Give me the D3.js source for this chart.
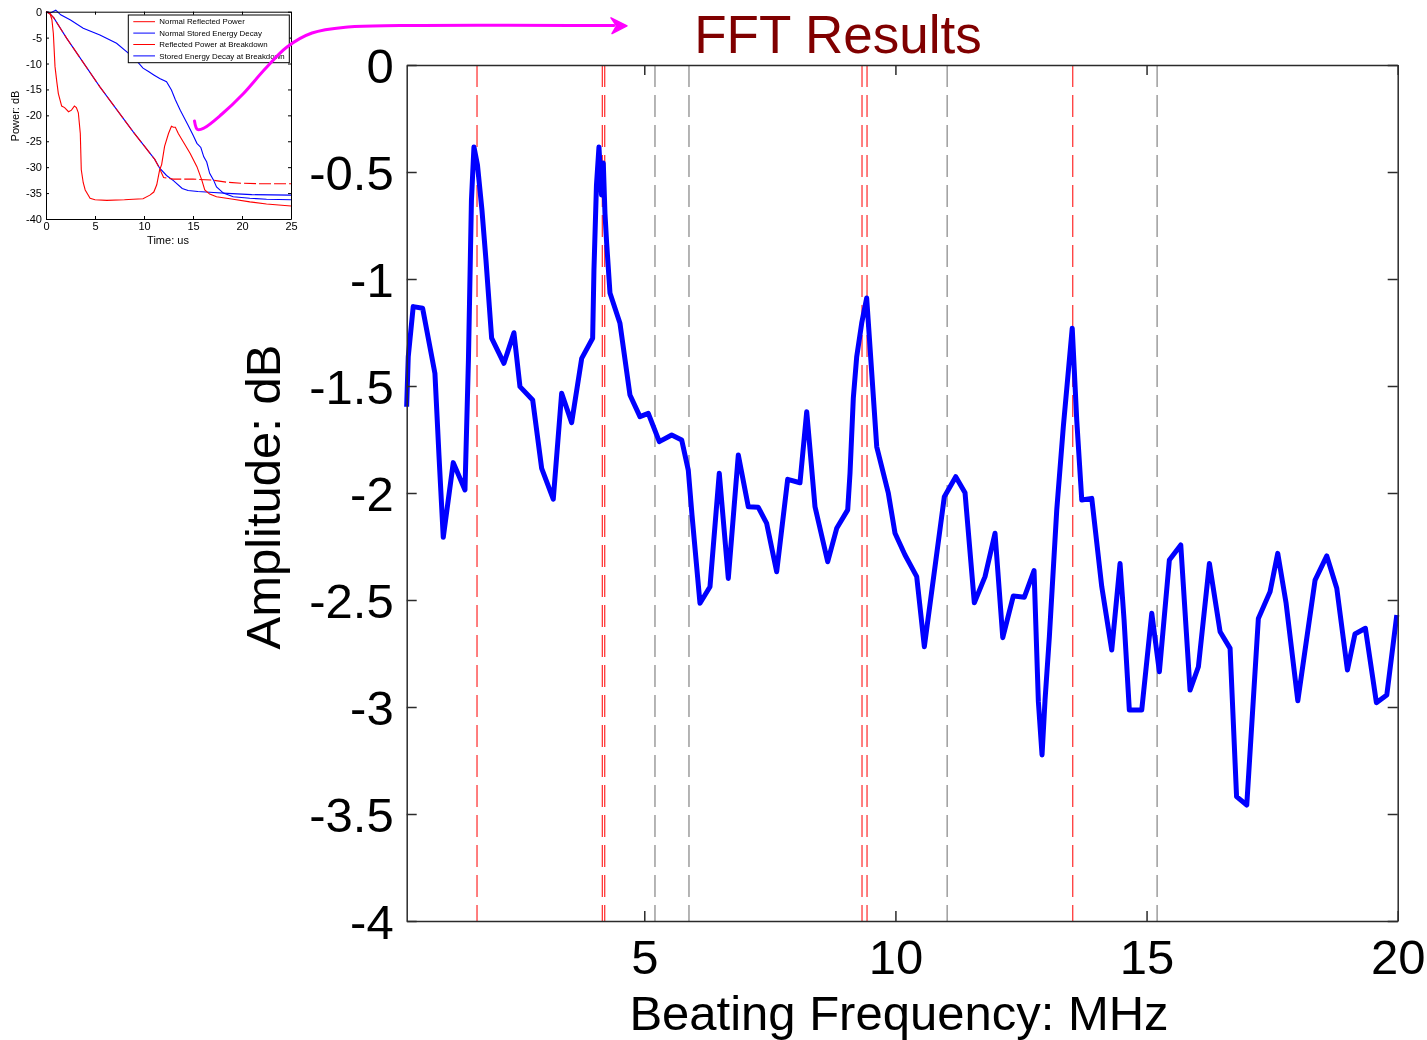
<!DOCTYPE html>
<html>
<head>
<meta charset="utf-8">
<title>FFT Results</title>
<script src="https://cdn.jsdelivr.net/npm/d3@7"></script>
<style>
  html, body { margin: 0; padding: 0; background: #fff; }
  svg { display: block; }
</style>
</head>
<body>
<svg id="chart" width="1427" height="1040"></svg>
<script>
// ---------- FFT spectrum (beating frequency vs amplitude) ----------
const freqMHz = [
  0.269, 0.301, 0.400, 0.587, 0.832, 0.912, 0.998, 1.197, 1.430, 1.499,
  1.559, 1.609, 1.679, 1.768, 1.848, 1.961, 2.206, 2.405, 2.525, 2.778,
  2.957, 3.188, 3.355, 3.554, 3.754, 3.972, 3.998, 4.048, 4.098, 4.148,
  4.184, 4.217, 4.251, 4.317, 4.516, 4.715, 4.914, 5.080, 5.299, 5.546,
  5.745, 5.876, 5.950, 6.109, 6.308, 6.493, 6.673, 6.872, 7.071, 7.270,
  7.437, 7.636, 7.855, 8.100, 8.234, 8.399, 8.652, 8.831, 9.050, 9.096,
  9.162, 9.229, 9.329, 9.428, 9.628, 9.859, 9.992, 10.191, 10.424, 10.576,
  10.974, 11.201, 11.386, 11.571, 11.784, 11.983, 12.137, 12.348, 12.567, 12.760,
  12.846, 12.919, 12.979, 13.065, 13.212, 13.343, 13.520, 13.610, 13.710, 13.909,
  14.108, 14.307, 14.472, 14.552, 14.657, 14.904, 15.104, 15.255, 15.454, 15.681,
  15.866, 16.032, 16.251, 16.464, 16.663, 16.792, 16.995, 17.226, 17.459, 17.612,
  17.778, 18.011, 18.355, 18.588, 18.787, 18.999, 19.149, 19.357, 19.576, 19.783,
  19.982
];
const ampDB = [
  -1.597, -1.363, -1.129, -1.137, -1.441, -1.822, -2.207, -1.858, -1.986, -1.379,
  -0.631, -0.383, -0.467, -0.678, -0.911, -1.276, -1.394, -1.251, -1.503, -1.565,
  -1.885, -2.029, -1.534, -1.671, -1.371, -1.277, -0.958, -0.561, -0.383, -0.607,
  -0.458, -0.692, -0.832, -1.065, -1.207, -1.542, -1.643, -1.628, -1.760, -1.729,
  -1.752, -1.893, -2.103, -2.515, -2.438, -1.908, -2.399, -1.822, -2.064, -2.067,
  -2.142, -2.368, -1.936, -1.952, -1.620, -2.064, -2.321, -2.165, -2.079, -1.907,
  -1.556, -1.364, -1.206, -1.089, -1.784, -2.001, -2.188, -2.290, -2.391, -2.718,
  -2.017, -1.924, -1.999, -2.513, -2.391, -2.188, -2.676, -2.481, -2.487, -2.363,
  -2.975, -3.224, -2.967, -2.671, -2.079, -1.690, -1.230, -1.659, -2.033, -2.025,
  -2.438, -2.734, -2.329, -2.593, -3.014, -3.014, -2.562, -2.835, -2.313, -2.243,
  -2.921, -2.812, -2.329, -2.648, -2.726, -3.419, -3.458, -2.586, -2.461, -2.282,
  -2.515, -2.971, -2.407, -2.294, -2.445, -2.827, -2.659, -2.632, -2.980, -2.944,
  -2.570
];

// expected beating frequencies (red) and reference lines (grey), MHz
const redMarkers  = [1.670, 4.165, 4.212, 9.335, 9.435, 13.53];
const greyMarkers = [5.213, 5.890, 11.03, 15.21];

// axis ticks
const xTicks = [5, 10, 15, 20];
const yTicks = [0, -0.5, -1, -1.5, -2, -2.5, -3, -3.5, -4];

// ---------- inset: time-domain decay traces (us, dB) ----------
const normReflT  = [0, 0.4, 0.8, 2.1, 5.5, 8.9, 11.1, 11.5, 12.0, 13.0, 15.0, 17.0, 18.4, 20.0, 22.0, 25.0];
const normReflDB = [0, -0.4, -1.2, -5.1, -14.5, -23.2, -28.5, -29.9, -32.0, -32.3, -32.3, -32.5, -32.9, -33.1, -33.2, -33.2];

const normStoredT  = [0, 0.4, 0.8, 2.1, 5.5, 8.9, 11.1, 11.6, 12.3, 13.0, 13.9, 14.5, 15.5, 17.1, 19.0, 21.0, 25.0];
const normStoredDB = [0, -0.4, -1.2, -5.1, -14.5, -23.2, -28.5, -30.2, -31.6, -32.6, -34.1, -34.5, -34.7, -34.9, -35.1, -35.3, -35.4];

const bdReflT  = [0, 0.4, 0.6, 0.75, 0.92, 1.1, 1.26, 1.6, 1.9, 2.3, 2.6, 2.9, 3.1, 3.3, 3.5, 3.6, 3.8, 4.0, 4.5, 5.0,
                  6.2, 8.0, 8.9, 9.9, 10.6, 11.0, 11.3, 11.6, 11.8, 12.1, 12.5, 12.8, 13.0, 13.2, 13.5, 14.0, 14.7, 15.4, 15.9, 16.2,
                  16.7, 17.4, 19.1, 20.8, 22.5, 25.0];
const bdReflDB = [0, -0.3, -1.5, -4.2, -10.6, -13.5, -15.8, -18.2, -18.5, -19.3, -19.0, -18.2, -18.5, -19.5, -23.5, -30.5, -33.0, -34.4, -36.0, -36.3,
                  -36.4, -36.3, -36.2, -36.1, -35.4, -34.8, -33.4, -30.5, -29.5, -26.0, -23.5, -22.1, -22.3, -22.3, -23.5, -25.1, -27.3, -29.9, -32.5, -34.4,
                  -35.2, -35.7, -36.2, -36.7, -37.1, -37.5];

const bdStoredT  = [0, 0.5, 1.0, 1.5, 2.5, 3.8, 5.5, 7.2, 8.4, 9.3, 9.9, 10.5, 11.0, 11.6, 12.3, 12.8, 13.2, 13.7, 14.5, 15.0,
                    15.4, 15.8, 16.1, 16.4, 16.7, 17.1, 17.4, 18.1, 19.1, 20.8, 22.5, 25.0];
const bdStoredDB = [0, -0.2, 0.3, -0.6, -1.6, -3.2, -4.5, -6.1, -8.0, -9.6, -10.9, -11.6, -12.2, -12.9, -13.5, -15.1, -17.0, -19.0, -21.9, -23.8,
                    -25.4, -26.2, -28.0, -29.0, -31.2, -32.5, -33.8, -35.0, -35.7, -36.0, -36.2, -36.3];

const insetLegend = ["Normal Reflected Power", "Normal Stored Energy Decay", "Reflected Power at Breakdown", "Stored Energy Decay at Breakdown"];
const insetColors = ["#ff0000", "#0000ff", "#ff0000", "#0000ff"];
const insetXTicks = [0, 5, 10, 15, 20, 25];
const insetYTicks = [0, -5, -10, -15, -20, -25, -30, -35, -40];

const FONT = "'Liberation Sans', Arial, Helvetica, sans-serif";
const svg = d3.select("#chart");

// ================= main FFT axes =================
const plot = { left: 406.7, right: 1397.7, top: 65, bottom: 921 };
const x = d3.scaleLinear().domain([0.27, 20]).range([plot.left, plot.right]);
const y = d3.scaleLinear().domain([-4, 0]).range([plot.bottom, plot.top]);

const main = svg.append("g");

// vertical marker lines
const markerG = main.append("g");
markerG.selectAll("line.grey").data(greyMarkers).join("line")
  .attr("class", "grey")
  .attr("x1", d => x(d)).attr("x2", d => x(d))
  .attr("y1", plot.top).attr("y2", plot.bottom)
  .attr("stroke", "#8e8e8e").attr("stroke-width", 1.3)
  .attr("stroke-dasharray", "22,8");
markerG.selectAll("line.red").data(redMarkers).join("line")
  .attr("class", "red")
  .attr("x1", d => x(d)).attr("x2", d => x(d))
  .attr("y1", plot.top).attr("y2", plot.bottom)
  .attr("stroke", "#ff3a3a").attr("stroke-width", 1.3)
  .attr("stroke-dasharray", "22,8");

// spectrum trace
const spectrum = d3.zip(freqMHz, ampDB);
main.append("path")
  .datum(spectrum)
  .attr("fill", "none")
  .attr("stroke", "#0000ff")
  .attr("stroke-width", 5)
  .attr("stroke-linejoin", "round")
  .attr("d", d3.line().x(d => x(d[0])).y(d => y(d[1])));

// axes with inward ticks on all four sides
function styleAxis(g, size) {
  g.attr("font-family", FONT).attr("font-size", size);
  g.selectAll("path.domain").attr("stroke", "#2b2b2b").attr("stroke-width", 1.5);
  g.selectAll(".tick line").attr("stroke", "#2b2b2b").attr("stroke-width", 1.5);
  g.selectAll(".tick text").attr("fill", "#000");
}
const fmt = d => String(d);

const xAxis = main.append("g")
  .attr("transform", `translate(0,${plot.bottom})`)
  .call(d3.axisBottom(x).tickValues(xTicks).tickFormat(fmt).tickSizeInner(-10).tickSizeOuter(0).tickPadding(18));
styleAxis(xAxis, 49);

const xAxisTop = main.append("g")
  .attr("transform", `translate(0,${plot.top})`)
  .call(d3.axisTop(x).tickValues(xTicks).tickFormat("").tickSizeInner(-10).tickSizeOuter(0));
styleAxis(xAxisTop, 49);

const yAxis = main.append("g")
  .attr("transform", `translate(${plot.left},0)`)
  .call(d3.axisLeft(y).tickValues(yTicks).tickFormat(fmt).tickSizeInner(-10).tickSizeOuter(0).tickPadding(13));
styleAxis(yAxis, 49);
yAxis.selectAll(".tick text").attr("dy", "0.35em");

const yAxisRight = main.append("g")
  .attr("transform", `translate(${plot.right},0)`)
  .call(d3.axisRight(y).tickValues(yTicks).tickFormat("").tickSizeInner(-10).tickSizeOuter(0));
styleAxis(yAxisRight, 49);

// axis titles
main.append("text")
  .attr("x", 899).attr("y", 1030)
  .attr("text-anchor", "middle")
  .attr("font-family", FONT).attr("font-size", 49)
  .text("Beating Frequency: MHz");

main.append("text")
  .attr("transform", "translate(280,497) rotate(-90)")
  .attr("text-anchor", "middle")
  .attr("font-family", FONT).attr("font-size", 49)
  .text("Amplitude: dB");

// chart title
main.append("text")
  .attr("x", 838).attr("y", 53)
  .attr("text-anchor", "middle")
  .attr("font-family", FONT).attr("font-size", 53)
  .attr("fill", "#800000")
  .text("FFT Results");

// ================= inset: decay traces =================
const defs = svg.append("defs");
defs.append("filter").attr("id", "soft")
  .attr("x", "-5%").attr("y", "-5%").attr("width", "110%").attr("height", "110%")
  .append("feGaussianBlur").attr("stdDeviation", 0.55);

const box = { left: 46, right: 291, top: 11.7, bottom: 219 };
const ix = d3.scaleLinear().domain([0, 25]).range([box.left, box.right]);
const iy = d3.scaleLinear().domain([-40, 0]).range([box.bottom, box.top]);

const inset = svg.append("g").attr("filter", "url(#soft)");
inset.append("rect")
  .attr("x", 0).attr("y", 0).attr("width", 300).attr("height", 250)
  .attr("fill", "#fff");

const iline = d3.line().x(d => ix(d[0])).y(d => iy(d[1]));
const traces = [
  { pts: d3.zip(normStoredT, normStoredDB), color: insetColors[1] },
  { pts: d3.zip(bdStoredT, bdStoredDB),     color: insetColors[3] },
  { pts: d3.zip(bdReflT, bdReflDB),         color: insetColors[2] }
];
traces.forEach(tr => {
  inset.append("path").datum(tr.pts)
    .attr("fill", "none").attr("stroke", tr.color).attr("stroke-width", 1.1)
    .attr("d", iline);
});
// normal reflected power rides on the stored-energy line, drawn dashed on top
inset.append("path").datum(d3.zip(normReflT, normReflDB))
  .attr("fill", "none").attr("stroke", insetColors[0]).attr("stroke-width", 1.1)
  .attr("stroke-dasharray", "12,3")
  .attr("d", iline);

function styleInsetAxis(g) {
  g.attr("font-family", FONT).attr("font-size", 11);
  g.selectAll("path.domain").attr("stroke", "#000").attr("stroke-width", 1);
  g.selectAll(".tick line").attr("stroke", "#000").attr("stroke-width", 1);
}
const iXb = inset.append("g").attr("transform", `translate(0,${box.bottom})`)
  .call(d3.axisBottom(ix).tickValues(insetXTicks).tickFormat(fmt).tickSizeInner(-3).tickSizeOuter(0).tickPadding(3));
styleInsetAxis(iXb);
const iXt = inset.append("g").attr("transform", `translate(0,${box.top})`)
  .call(d3.axisTop(ix).tickValues(insetXTicks).tickFormat("").tickSizeInner(-3).tickSizeOuter(0));
styleInsetAxis(iXt);
const iYl = inset.append("g").attr("transform", `translate(${box.left},0)`)
  .call(d3.axisLeft(iy).tickValues(insetYTicks).tickFormat(fmt).tickSizeInner(-3).tickSizeOuter(0).tickPadding(4));
styleInsetAxis(iYl);
const iYr = inset.append("g").attr("transform", `translate(${box.right},0)`)
  .call(d3.axisRight(iy).tickValues(insetYTicks).tickFormat("").tickSizeInner(-3).tickSizeOuter(0));
styleInsetAxis(iYr);

inset.append("text")
  .attr("x", 168).attr("y", 244)
  .attr("text-anchor", "middle")
  .attr("font-family", FONT).attr("font-size", 11)
  .text("Time: us");
inset.append("text")
  .attr("transform", "translate(19,116) rotate(-90)")
  .attr("text-anchor", "middle")
  .attr("font-family", FONT).attr("font-size", 11)
  .text("Power: dB");

// inset legend
const lg = inset.append("g");
lg.append("rect")
  .attr("x", 128.3).attr("y", 15).attr("width", 161).attr("height", 47.7)
  .attr("fill", "#fff").attr("stroke", "#000").attr("stroke-width", 1);
insetLegend.forEach((label, i) => {
  const yy = 21.7 + i * 11.4;
  lg.append("line")
    .attr("x1", 133.3).attr("x2", 155).attr("y1", yy).attr("y2", yy)
    .attr("stroke", insetColors[i]).attr("stroke-width", 1);
  lg.append("text")
    .attr("x", 159.3).attr("y", yy).attr("dy", "0.35em")
    .attr("font-family", FONT).attr("font-size", 7.9)
    .text(label);
});

// ================= pointer arrow from inset to spectrum =================
const arrowPath = [[194.5, 121], [197.5, 129.5], [204, 128], [222, 114], [243, 94], [265, 69],
                   [287, 47], [312, 33], [348, 27], [400, 25.5], [614, 25.5]];
svg.append("path")
  .datum(arrowPath)
  .attr("fill", "none").attr("stroke", "#ff00ff").attr("stroke-width", 3)
  .attr("stroke-linecap", "round")
  .attr("d", d3.line().curve(d3.curveCatmullRom.alpha(0.5)));
svg.append("path")
  .attr("d", "M627,25.8 L611,17.8 L616.5,25.8 L612,33.6 Z")
  .attr("fill", "#ff00ff").attr("stroke", "#ff00ff").attr("stroke-width", 1.5)
  .attr("stroke-linejoin", "round");
</script>
</body>
</html>
